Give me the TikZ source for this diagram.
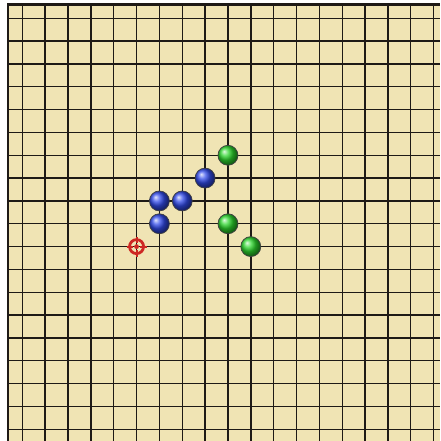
\documentclass[tikz,border=0pt]{standalone}
\definecolor{boardc}{RGB}{240,228,180}
\definecolor{gridc}{RGB}{30,26,22}
\definecolor{bluec}{RGB}{50,75,235}
\definecolor{greenc}{RGB}{45,215,45}
\definecolor{targetc}{RGB}{205,40,35}
\tikzset{
  gridline/.style={draw=gridc, line width=1.4pt},
  boardedge/.style={draw=gridc, line width=2.6pt},
  bluestone/.style={circle, minimum size=20pt, inner sep=0pt, draw=black!75, line width=0.7pt, shading=ball, ball color=bluec},
  greenstone/.style={circle, minimum size=20pt, inner sep=0pt, draw=black!75, line width=0.7pt, shading=ball, ball color=greenc},
  targetring/.style={circle, minimum size=14pt, inner sep=0pt, draw=targetc, line width=2.8pt},
  targetmark/.style={draw=targetc, line width=2pt},
}
\begin{document}
\begin{tikzpicture}[x=1pt,y=-1pt]
\useasboundingbox (0,0) rectangle (440,441);
\fill[white] (0,0) rectangle (440,441);
\fill[boardc] (8,4.7) rectangle (440,441);
\foreach \px in {22.3,45.15,68.0,90.85,113.7,136.55,159.4,182.25,205.1,227.95,250.8,273.65,296.5,319.35,342.2,365.05,387.9,410.75,433.6} {
  \draw[gridline] (\px,4.7) -- (\px,441);
}
\foreach \py in {18.3,41.13,63.96,86.79,109.62,132.45,155.28,178.11,200.94,223.77,246.6,269.43,292.26,315.09,337.92,360.75,383.58,406.41,429.24} {
  \draw[gridline] (8,\py) -- (440,\py);
}
\draw[boardedge] (8,441) -- (8,4.7) -- (440,4.7);
% blue stones
\node[bluestone] (b1) at (159.4,200.94) {};
\node[bluestone] (b2) at (182.25,200.94) {};
\node[bluestone] (b3) at (159.4,223.77) {};
\node[bluestone] (b4) at (205.1,178.11) {};
% green stones
\node[greenstone] (g1) at (227.95,155.28) {};
\node[greenstone] (g2) at (227.95,223.77) {};
\node[greenstone] (g3) at (250.8,246.6) {};
% target marker
\node[targetring] (t) at (136.55,246.6) {};
\draw[targetmark] ([xshift=-10pt]t.center) -- ([xshift=-3.5pt]t.center);
\draw[targetmark] ([xshift=3.5pt]t.center) -- ([xshift=10pt]t.center);
\draw[targetmark] ([yshift=-10pt]t.center) -- ([yshift=-3.5pt]t.center);
\draw[targetmark] ([yshift=3.5pt]t.center) -- ([yshift=10pt]t.center);
\fill[targetc] (t.center) circle (2.4pt);
\end{tikzpicture}
\end{document}
